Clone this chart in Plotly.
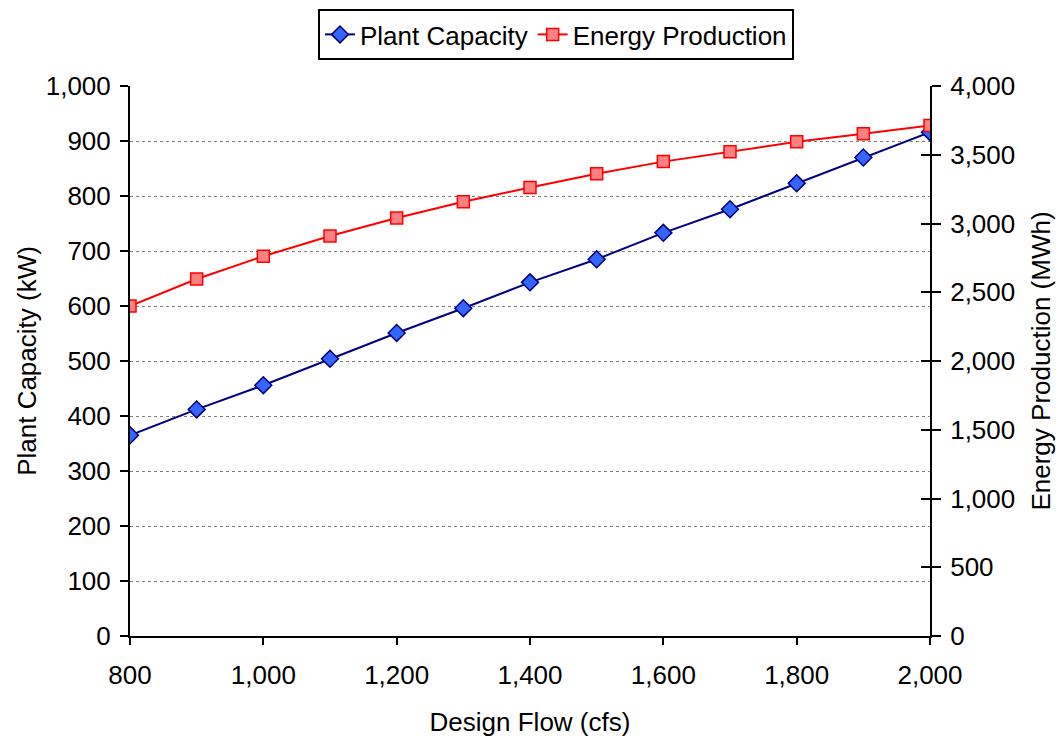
import plotly.graph_objects as go

# Design flow (cfs) and the resulting plant figures
design_flow = [800, 900, 1000, 1100, 1200, 1300, 1400, 1500, 1600, 1700, 1800, 1900, 2000]
plant_capacity_kw = [365, 412, 456, 504, 551, 596, 643, 685, 733, 776, 823, 870, 916]
energy_production_mwh = [2400, 2596, 2762, 2909, 3040, 3158, 3262, 3362, 3450, 3522, 3594, 3652, 3712]

font_family = "Liberation Sans, Arial, sans-serif"
FS = 26
tick_font = dict(family=font_family, size=FS, color="black")

fig = go.Figure()

fig.add_trace(go.Scatter(
    x=design_flow, y=plant_capacity_kw, name="Plant Capacity",
    mode="lines+markers",
    line=dict(color="#000080", width=2),
    marker=dict(symbol="diamond", size=13, color="#3366FF",
                line=dict(color="#000080", width=1.5)),
    yaxis="y",
))

fig.add_trace(go.Scatter(
    x=design_flow, y=energy_production_mwh, name="Energy Production",
    mode="lines+markers",
    line=dict(color="#FF0000", width=2),
    marker=dict(symbol="square", size=12, color="#FF8080",
                line=dict(color="#FF0000", width=1.5)),
    yaxis="y2",
))

# empty trace that carries the inner half of the right-hand cross ticks
fig.add_trace(go.Scatter(x=[], y=[], yaxis="y3", showlegend=False, hoverinfo="skip"))

fig.update_layout(
    width=1062, height=740,
    margin=dict(l=130, r=132, t=86, b=104, autoexpand=False),
    paper_bgcolor="white", plot_bgcolor="white",
    font=dict(family=font_family, size=FS, color="black"),
    showlegend=True,
    legend=dict(
        orientation="h",
        x=0.5325, y=1.14, xanchor="center", yanchor="top",
        bordercolor="black", borderwidth=2,
        font=dict(family=font_family, size=FS, color="black"),
        bgcolor="white",
        tracegroupgap=0,
    ),
    xaxis=dict(
        range=[800, 2000], dtick=200, tick0=800,
        tickformat=",d", automargin=False,
        showline=True, linecolor="black", linewidth=2,
        ticks="outside", ticklen=7, tickwidth=2, tickcolor="black",
        ticklabelstandoff=8,
        showgrid=False, zeroline=False,
        tickfont=tick_font,
        title=dict(text="Design Flow (cfs)", font=dict(family=font_family, size=FS), standoff=24),
    ),
    yaxis=dict(
        range=[0, 1000], dtick=100,
        tickformat=",d", automargin=False,
        showline=True, linecolor="black", linewidth=2,
        ticks="outside", ticklen=8, tickwidth=2, tickcolor="black",
        ticklabelstandoff=4,
        showgrid=True, gridcolor="#808080", griddash="dot", gridwidth=1,
        zeroline=False,
        tickfont=tick_font,
        title=dict(text="Plant Capacity (kW)", font=dict(family=font_family, size=FS), standoff=2),
    ),
    yaxis2=dict(
        range=[0, 4000], dtick=500,
        tickformat=",d", automargin=False,
        overlaying="y", side="right", anchor="x",
        showline=True, linecolor="black", linewidth=2,
        ticks="outside", ticklen=9, tickwidth=2, tickcolor="black",
        ticklabelstandoff=4,
        showgrid=False, zeroline=False,
        tickfont=tick_font,
        title=dict(text="Energy Production (MWh)", font=dict(family=font_family, size=FS), standoff=18),
    ),
    yaxis3=dict(
        range=[0, 4000], dtick=500, automargin=False,
        overlaying="y", side="right", anchor="x",
        showline=False,
        ticks="inside", ticklen=9, tickwidth=2, tickcolor="black",
        showticklabels=False, showgrid=False, zeroline=False,
    ),
)

fig.write_html("out.html")
